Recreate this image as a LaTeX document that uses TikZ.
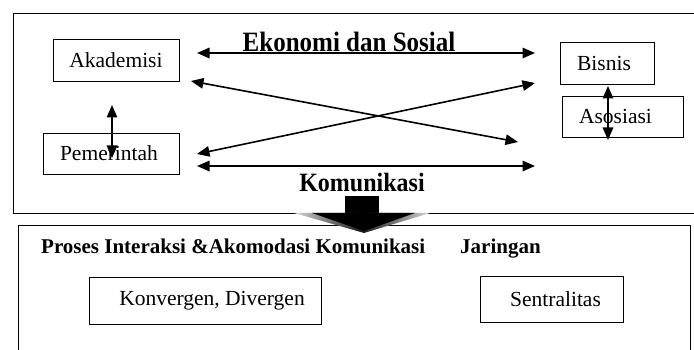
\documentclass[tikz,border=0pt]{standalone}
\usepackage{fontspec}
\setmainfont{Liberation Serif}
\usetikzlibrary{arrows.meta}
\begin{document}
\begin{tikzpicture}[x=1pt,y=-1pt,
  box/.style={draw,line width=0.9pt,inner sep=0pt,font=\fontsize{21.5}{25}\selectfont},
  dbl/.style={line width=1.6pt,{Triangle[length=12.5pt,width=10.5pt]}-{Triangle[length=12.5pt,width=10.5pt]}},
  big/.style={font=\fontsize{25}{28}\bfseries\selectfont,inner sep=0pt,anchor=base},
  sub/.style={font=\fontsize{21}{24}\bfseries\selectfont,inner sep=0pt,anchor=base west}]
\useasboundingbox (0,0) rectangle (694,350);
% frames
\draw[line width=0.9pt] (698,13) -- (13,13) -- (13,213) -- (698,213);
\draw[line width=0.9pt] (18,356) -- (18,225) -- (690,225) -- (690,356);
% boxes
\node[box,minimum width=126pt,minimum height=42pt] (ak) at (116,60) {Akademisi};
\node[box,minimum width=94pt,minimum height=42pt] (bi) at (607,63) {\hspace{-6pt}Bisnis};
\node[box,minimum width=121pt,minimum height=41pt] (as) at (622.5,116.5) {\hspace{-14pt}Asosiasi};
\node[box,minimum width=136pt,minimum height=41pt] (pe) at (111,153.5) {\hspace{-4pt}Pemerintah};
\node[box,minimum width=232pt,minimum height=47pt] (ko) at (205,300.5) {\hspace{14pt}Konvergen, Divergen};
\node[box,minimum width=143pt,minimum height=46pt] (se) at (551.5,299) {\hspace{8pt}Sentralitas};
% labels
\node[big] (eko) at (349,52) {\scalebox{1}[1.12]{Ekonomi dan Sosial}};
\node[big,font=\fontsize{24}{28}\bfseries\selectfont] (kom) at (362,192) {\scalebox{1}[1.1]{Komunikasi}};
\node[sub] (pro) at (41,254) {Proses Interaksi \&Akomodasi Komunikasi};
\node[sub] (jar) at (460,254) {Jaringan};
% arrow end points
\coordinate (t1) at (197,53); \coordinate (t2) at (535,53);
\coordinate (d1a) at (191,81); \coordinate (d1b) at (518,142);
\coordinate (d2a) at (535,83); \coordinate (d2b) at (197,154);
\coordinate (b1) at (197,166); \coordinate (b2) at (535,166);
\coordinate (v1) at (112,105); \coordinate (v2) at (112,158);
\coordinate (w1) at (608,86); \coordinate (w2) at (608,140);
\draw[dbl] (t1) -- (t2);
\draw[dbl] (d1a) -- (d1b);
\draw[dbl] (d2a) -- (d2b);
\draw[dbl] (b1) -- (b2);
\draw[dbl] (v1) -- (v2);
\draw[dbl] (w1) -- (w2);
% big down arrow
\fill[black] (345,196) rectangle (379,214);
\shade[left color=gray!30,right color=gray!30,middle color=black!90] (294,213) -- (430,213) -- (364,233) -- cycle;
\fill[black] (312,213) -- (415,213) -- (364,231) -- cycle;
\end{tikzpicture}
\end{document}
